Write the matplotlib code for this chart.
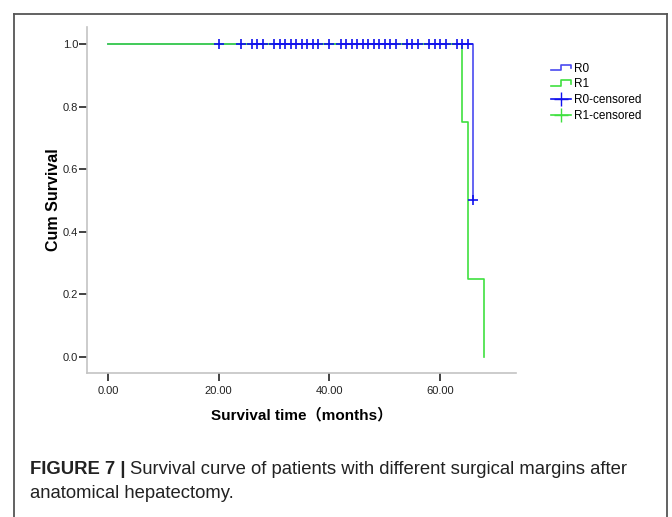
import numpy as np
import matplotlib
matplotlib.use("Agg")
import matplotlib.pyplot as plt
from matplotlib.lines import Line2D
from matplotlib.legend_handler import HandlerBase

# ── Données ──────────────────────────────────────────────────────────────────
# Courbes Kaplan-Meier (paliers, where="post")
R0_TIME = [0, 66]
R0_SURV = [1.0, 0.5]
R1_TIME = [0, 64, 65, 68]
R1_SURV = [1.0, 0.75, 0.25, 0.0]

# Censures R0 (mois)
R0_CENS_TIME = [20, 24, 26, 27, 28,
                30, 31, 32, 33, 34, 35, 36, 37, 38,
                40,
                42, 43, 44, 45, 46, 47, 48, 49, 50, 51, 52,
                54, 55, 56,
                58, 59, 60, 61,
                63, 64, 65,
                66]
R0_CENS_SURV = [1.0] * 36 + [0.5]

X_TICKS = [0, 20, 40, 60]
Y_TICKS = [0.0, 0.2, 0.4, 0.6, 0.8, 1.0]

BLUE_LINE = "#4a4af0"
BLUE_MARK = "#1010ee"
GREEN = "#3fe03f"


class StepHandler(HandlerBase):
    """Icône en escalier pour la légende (style SPSS)."""
    def create_artists(self, legend, orig_handle, xdescent, ydescent,
                       width, height, fontsize, trans):
        x = np.array([0.0, 0.5, 0.5, 1.0, 1.0]) * width - xdescent
        y = np.array([0.15, 0.15, 0.85, 0.85, 0.45]) * height - ydescent
        return [Line2D(x, y, color=orig_handle.get_color(), lw=1.2, transform=trans)]


fig = plt.figure(figsize=(6.72, 5.17), dpi=100)
ax = fig.add_axes([87 / 672, 1 - 373 / 517, (516 - 87) / 672, (373 - 27) / 517])

ax.step(R0_TIME, R0_SURV, where="post", color=BLUE_LINE, lw=1.2, zorder=2)
ax.step(R1_TIME, R1_SURV, where="post", color=GREEN, lw=1.2, zorder=3)
ax.plot(R0_CENS_TIME, R0_CENS_SURV, ls="none", marker="+", ms=7.5, mew=1.2,
        color=BLUE_MARK, zorder=4)

ax.set_xlim(-3.8, 73.7)
ax.set_ylim(-0.051, 1.054)
ax.set_xticks(X_TICKS)
ax.set_xticklabels([f"{v:.2f}" for v in X_TICKS])
ax.set_yticks(Y_TICKS)
ax.set_yticklabels([f"{v:.1f}" for v in Y_TICKS])
ax.tick_params(length=6, width=1.2, color="#222222", labelsize=8,
               labelcolor="#222222")
ax.tick_params(axis="y", pad=0.5)
ax.tick_params(axis="x", pad=3)

for s in ["top", "right"]:
    ax.spines[s].set_visible(False)
for s in ["left", "bottom"]:
    ax.spines[s].set_color("#c4c4c4")
    ax.spines[s].set_linewidth(1.2)

ax.set_xlabel("Survival time（months）", fontsize=11, fontweight="bold",
              family=["Liberation Sans", "Noto Sans CJK SC"], labelpad=9)
ax.set_ylabel("Cum Survival", fontsize=11.5, fontweight="bold",
              family=["Liberation Sans"], labelpad=1)
for lab in ax.get_xticklabels() + ax.get_yticklabels():
    lab.set_family("Liberation Sans")

handles = [Line2D([], [], color=BLUE_LINE), Line2D([], [], color=GREEN),
           Line2D([], [], color=BLUE_MARK, marker="+", ms=10, lw=1.2),
           Line2D([], [], color=GREEN, marker="+", ms=10, lw=1.2)]
labels = ["R0", "R1", "R0-censored", "R1-censored"]
fig.legend(handles, labels, loc="upper left", bbox_to_anchor=(540 / 672, 1 - 52 / 517),
           frameon=False, prop={"family": "Liberation Sans", "size": 8.5},
           handlelength=1.7, handletextpad=0.3, labelspacing=0.32,
           handler_map={handles[0]: StepHandler(), handles[1]: StepHandler()})

# Cadre de la légende de figure
for xs, ys in [([14, 14], [517, 14]), ([14, 667], [14, 14]), ([667, 667], [14, 517])]:
    fig.add_artist(Line2D(np.array(xs) / 672, 1 - np.array(ys) / 517,
                          color="#555555", lw=1.3, transform=fig.transFigure))

cap_font = ["Liberation Sans Narrow", "Liberation Sans"]
t1 = fig.text(30 / 672, 1 - 469 / 517, "FIGURE 7 |", fontsize=13.3, fontweight="bold",
              family=cap_font, va="center", color="#222222")
fig.canvas.draw()
bb = t1.get_window_extent()
fig.text((bb.x1 + 4) / 672, 1 - 469 / 517,
         "Survival curve of patients with different surgical margins after",
         fontsize=13.3, family=cap_font, va="center", color="#222222")
fig.text(30 / 672, 1 - 494 / 517, "anatomical hepatectomy.", fontsize=13.3,
         family=cap_font, va="center", color="#222222")

fig.savefig("out.png", dpi=100)
